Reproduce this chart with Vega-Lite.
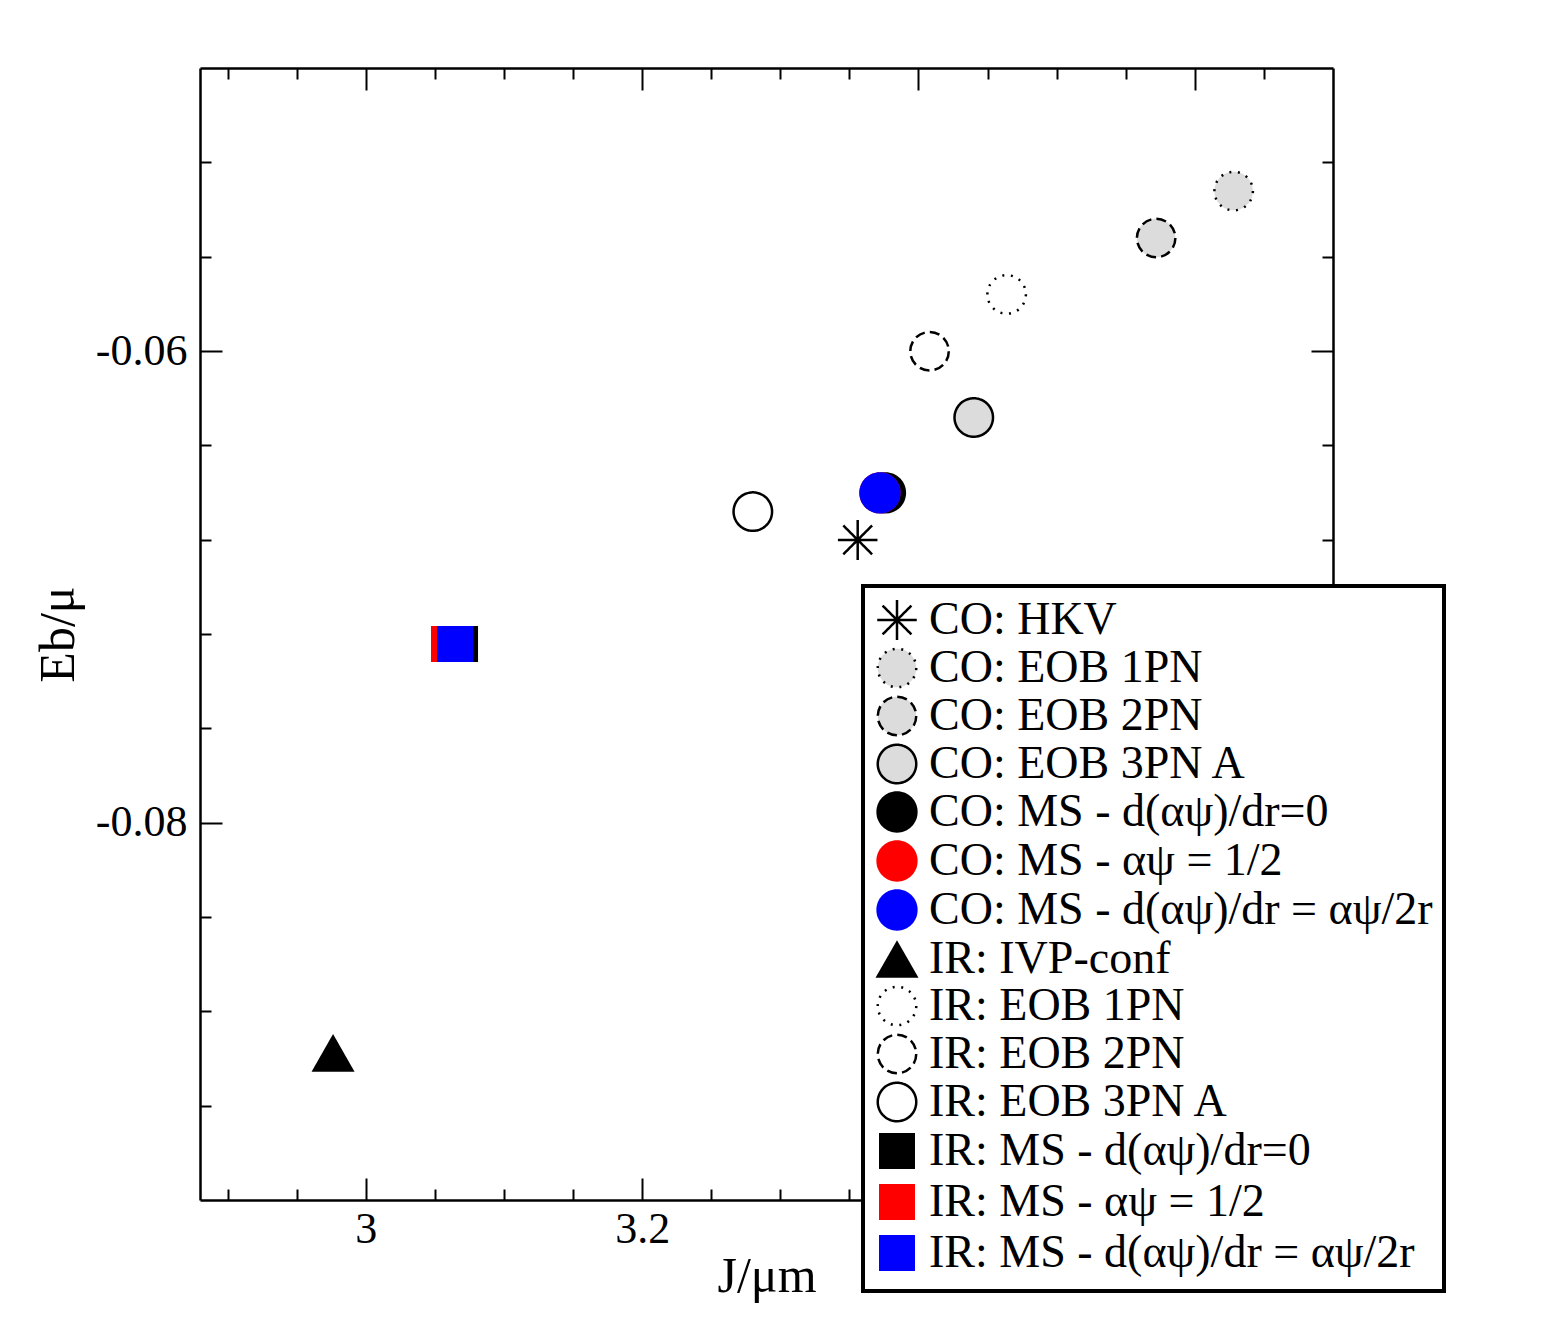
{
  "$schema": "https://vega.github.io/schema/vega-lite/v6.json",
  "width": 1133,
  "height": 1132,
  "autosize": {"type": "none"},
  "padding": {"left": 200, "top": 68, "right": 208, "bottom": 132},
  "background": "white",
  "config": {
    "view": {"stroke": null},
    "font": "Liberation Serif",
    "axis": {
      "grid": false,
      "domainColor": "black",
      "domainWidth": 2.5,
      "tickColor": "black",
      "tickWidth": 2,
      "labelColor": "black",
      "labelFont": "Liberation Serif",
      "labelFontSize": 44,
      "titleColor": "black",
      "titleFont": "Liberation Serif",
      "titleFontSize": 50,
      "titleFontWeight": "normal"
    },
    "legend": {
      "orient": "none", "legendX": 663, "legendY": 518, "direction": "vertical",
      "fillColor": "white", "strokeColor": "black",
      "padding": 11, "labelFont": "Liberation Serif", "labelFontSize": 46, "labelColor": "black",
      "labelLimit": 0, "labelOffset": 9, "symbolSize": 1849, "symbolStrokeWidth": 2.5,
      "symbolOpacity": 1, "rowPadding": -3, "zindex": 5
    }
  },
  "data": {
    "values": [
      {"series": "CO: HKV", "J": 3.356, "Eb": -0.06801},
      {"series": "CO: EOB 1PN", "J": 3.6281, "Eb": -0.05322},
      {"series": "CO: EOB 2PN", "J": 3.572, "Eb": -0.05521},
      {"series": "CO: EOB 3PN A", "J": 3.44, "Eb": -0.06282},
      {"series": "CO: MS - d(αψ)/dr=0", "J": 3.3761, "Eb": -0.06602},
      {"series": "CO: MS - αψ = 1/2", "J": 3.3721, "Eb": -0.06602},
      {"series": "CO: MS - d(αψ)/dr = αψ/2r", "J": 3.3721, "Eb": -0.06602},
      {"series": "IR: IVP-conf", "J": 2.9763, "Eb": -0.08976},
      {"series": "IR: EOB 1PN", "J": 3.4638, "Eb": -0.0576},
      {"series": "IR: EOB 2PN", "J": 3.408, "Eb": -0.06001},
      {"series": "IR: EOB 3PN A", "J": 3.2801, "Eb": -0.06681},
      {"series": "IR: MS - d(αψ)/dr=0", "J": 3.0682, "Eb": -0.07242},
      {"series": "IR: MS - αψ = 1/2", "J": 3.0602, "Eb": -0.07242},
      {"series": "IR: MS - d(αψ)/dr = αψ/2r", "J": 3.0646, "Eb": -0.07242}
    ]
  },
  "layer": [
    {
      "mark": {"type": "point", "filled": true, "size": 1849, "strokeWidth": 2.5, "opacity": 1},
      "encoding": {
        "x": {
          "field": "J", "type": "quantitative",
          "scale": {"domain": [2.88, 3.7], "nice": false, "zero": false},
          "axis": {
            "orient": "bottom", "values": [3, 3.2, 3.4, 3.6], "tickSize": -22,
            "labelPadding": 29, "labelExpr": "datum.value < 3.3 ? format(datum.value, '~g') : ''",
            "title": "J/μm", "titlePadding": 0
          }
        },
        "y": {
          "field": "Eb", "type": "quantitative",
          "scale": {"domain": [-0.096, -0.048], "nice": false, "zero": false},
          "axis": {
            "orient": "left", "values": [-0.06, -0.08], "tickSize": -22,
            "labelPadding": 35, "labelExpr": "replace(format(datum.value, '.2f'), '\u2212', '-')",
            "title": "Eb/μ", "titlePadding": 12
          }
        },
        "shape": {
          "field": "series", "type": "nominal",
          "scale": {
            "domain": ["CO: HKV", "CO: EOB 1PN", "CO: EOB 2PN", "CO: EOB 3PN A", "CO: MS - d(αψ)/dr=0", "CO: MS - αψ = 1/2", "CO: MS - d(αψ)/dr = αψ/2r", "IR: IVP-conf", "IR: EOB 1PN", "IR: EOB 2PN", "IR: EOB 3PN A", "IR: MS - d(αψ)/dr=0", "IR: MS - αψ = 1/2", "IR: MS - d(αψ)/dr = αψ/2r"],
            "range": [
              "M-0.92,0L0.92,0M0,-0.93L0,0.93M-0.67,-0.67L0.67,0.67M-0.67,0.67L0.67,-0.67",
              "M0.895,0A0.895,0.895,0,1,1,-0.895,0A0.895,0.895,0,1,1,0.895,0Z",
              "M0.895,0A0.895,0.895,0,1,1,-0.895,0A0.895,0.895,0,1,1,0.895,0Z",
              "M0.895,0A0.895,0.895,0,1,1,-0.895,0A0.895,0.895,0,1,1,0.895,0Z",
              "M0.96,0A0.96,0.96,0,1,1,-0.96,0A0.96,0.96,0,1,1,0.96,0Z",
              "M0.96,0A0.96,0.96,0,1,1,-0.96,0A0.96,0.96,0,1,1,0.96,0Z",
              "M0.96,0A0.96,0.96,0,1,1,-0.96,0A0.96,0.96,0,1,1,0.96,0Z",
              "M0,-0.877L1,0.877L-1,0.877Z",
              "M0.895,0A0.895,0.895,0,1,1,-0.895,0A0.895,0.895,0,1,1,0.895,0Z",
              "M0.895,0A0.895,0.895,0,1,1,-0.895,0A0.895,0.895,0,1,1,0.895,0Z",
              "M0.895,0A0.895,0.895,0,1,1,-0.895,0A0.895,0.895,0,1,1,0.895,0Z",
              "M0,-1M0,1M-0.837,-0.837L0.837,-0.837L0.837,0.837L-0.837,0.837Z",
              "M0,-1M0,1M-0.837,-0.837L0.837,-0.837L0.837,0.837L-0.837,0.837Z",
              "M0,-1M0,1M-0.837,-0.837L0.837,-0.837L0.837,0.837L-0.837,0.837Z"
            ]
          },
          "legend": {
            "title": null,
            "encode": {"legend": {"update": {"strokeWidth": {"value": 4}, "stroke": {"value": "black"}, "fill": {"value": "white"}}}}
          }
        },
        "fill": {
          "field": "series", "type": "nominal",
          "scale": {
            "domain": ["CO: HKV", "CO: EOB 1PN", "CO: EOB 2PN", "CO: EOB 3PN A", "CO: MS - d(αψ)/dr=0", "CO: MS - αψ = 1/2", "CO: MS - d(αψ)/dr = αψ/2r", "IR: IVP-conf", "IR: EOB 1PN", "IR: EOB 2PN", "IR: EOB 3PN A", "IR: MS - d(αψ)/dr=0", "IR: MS - αψ = 1/2", "IR: MS - d(αψ)/dr = αψ/2r"],
            "range": ["transparent", "#dcdcdc", "#dcdcdc", "#dcdcdc", "black", "red", "blue", "black", "white", "white", "white", "black", "red", "blue"]
          },
          "legend": {
            "title": null,
            "encode": {"legend": {"update": {"strokeWidth": {"value": 4}, "stroke": {"value": "black"}, "fill": {"value": "white"}}}}
          }
        },
        "stroke": {
          "field": "series", "type": "nominal",
          "scale": {
            "domain": ["CO: HKV", "CO: EOB 1PN", "CO: EOB 2PN", "CO: EOB 3PN A", "CO: MS - d(αψ)/dr=0", "CO: MS - αψ = 1/2", "CO: MS - d(αψ)/dr = αψ/2r", "IR: IVP-conf", "IR: EOB 1PN", "IR: EOB 2PN", "IR: EOB 3PN A", "IR: MS - d(αψ)/dr=0", "IR: MS - αψ = 1/2", "IR: MS - d(αψ)/dr = αψ/2r"],
            "range": ["black", "black", "black", "black", "transparent", "transparent", "transparent", "transparent", "black", "black", "black", "transparent", "transparent", "transparent"]
          },
          "legend": {
            "title": null,
            "encode": {"legend": {"update": {"strokeWidth": {"value": 4}, "stroke": {"value": "black"}, "fill": {"value": "white"}}}}
          }
        },
        "strokeDash": {
          "field": "series", "type": "nominal",
          "scale": {
            "domain": ["CO: HKV", "CO: EOB 1PN", "CO: EOB 2PN", "CO: EOB 3PN A", "CO: MS - d(αψ)/dr=0", "CO: MS - αψ = 1/2", "CO: MS - d(αψ)/dr = αψ/2r", "IR: IVP-conf", "IR: EOB 1PN", "IR: EOB 2PN", "IR: EOB 3PN A", "IR: MS - d(αψ)/dr=0", "IR: MS - αψ = 1/2", "IR: MS - d(αψ)/dr = αψ/2r"],
            "range": [[1, 0], [2, 6.6], [10, 5.1], [1, 0], [1, 0], [1, 0], [1, 0], [1, 0], [2, 6.6], [10, 5.1], [1, 0], [1, 0], [1, 0], [1, 0]]
          },
          "legend": {
            "title": null,
            "encode": {"legend": {"update": {"strokeWidth": {"value": 4}, "stroke": {"value": "black"}, "fill": {"value": "white"}}}}
          }
        }
      }
    },
    {
      "mark": {"type": "point", "opacity": 0},
      "encoding": {
        "x": {
          "field": "J", "type": "quantitative",
          "scale": {"domain": [2.88, 3.7], "nice": false, "zero": false},
          "axis": {"orient": "bottom", "values": [2.9, 2.95, 3.05, 3.1, 3.15, 3.25, 3.3, 3.35, 3.45, 3.5, 3.55, 3.65], "tickSize": -11, "labels": false, "domain": false, "title": null}
        },
        "y": {
          "field": "Eb", "type": "quantitative",
          "scale": {"domain": [-0.096, -0.048], "nice": false, "zero": false},
          "axis": {"orient": "left", "values": [-0.052, -0.056, -0.064, -0.068, -0.072, -0.076, -0.084, -0.088, -0.092], "tickSize": -11, "labels": false, "domain": false, "title": null}
        }
      }
    },
    {
      "mark": {"type": "point", "opacity": 0},
      "encoding": {
        "x": {
          "field": "J", "type": "quantitative",
          "scale": {"domain": [2.88, 3.7], "nice": false, "zero": false},
          "axis": {"orient": "top", "values": [3, 3.2, 3.4, 3.6], "tickSize": -22, "labels": false, "title": null}
        },
        "y": {
          "field": "Eb", "type": "quantitative",
          "scale": {"domain": [-0.096, -0.048], "nice": false, "zero": false},
          "axis": {"orient": "right", "values": [-0.06, -0.08], "tickSize": -22, "labels": false, "title": null}
        }
      }
    },
    {
      "mark": {"type": "point", "opacity": 0},
      "encoding": {
        "x": {
          "field": "J", "type": "quantitative",
          "scale": {"domain": [2.88, 3.7], "nice": false, "zero": false},
          "axis": {"orient": "top", "values": [2.9, 2.95, 3.05, 3.1, 3.15, 3.25, 3.3, 3.35, 3.45, 3.5, 3.55, 3.65], "tickSize": -11, "labels": false, "domain": false, "title": null}
        },
        "y": {
          "field": "Eb", "type": "quantitative",
          "scale": {"domain": [-0.096, -0.048], "nice": false, "zero": false},
          "axis": {"orient": "right", "values": [-0.052, -0.056, -0.064, -0.068, -0.072, -0.076, -0.084, -0.088, -0.092], "tickSize": -11, "labels": false, "domain": false, "title": null}
        }
      }
    }
  ],
  "resolve": {"axis": {"x": "independent", "y": "independent"}}
}
